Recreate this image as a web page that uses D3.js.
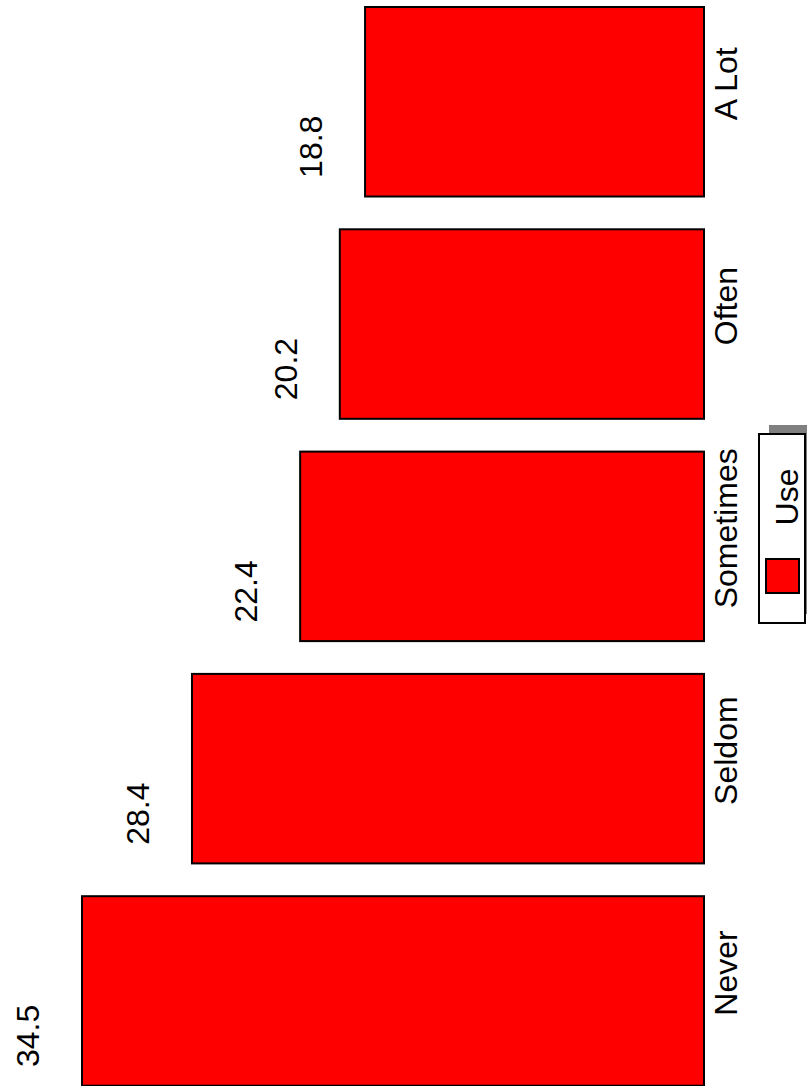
<!DOCTYPE html>
<html>
<head>
<meta charset="utf-8">
<script src="https://cdn.jsdelivr.net/npm/d3@7"></script>
<style>
  html, body { margin: 0; padding: 0; background: #fff; }
  svg { display: block; }
  text { font-family: "Liberation Sans", Arial, Helvetica, sans-serif; }
</style>
</head>
<body>
<svg id="chart" width="807" height="1086"></svg>
<script>
const categories = ["Never", "Seldom", "Sometimes", "Often", "A Lot"];
const values = [34.5, 28.4, 22.4, 20.2, 18.8];
const seriesName = "Use";

const svg = d3.select("#chart");
const W = 807, H = 1086;

// value axis runs right-to-left (bars grow leftward from baseline)
const x = d3.scaleLinear().domain([0, 34.5]).range([704, 82]);
// categories from top (A Lot) to bottom (Never)
const step = 222.3;
const y = d3.scaleBand()
  .domain(categories.slice().reverse())
  .range([7, 7 + step * (5 - 0.1475)])
  .paddingInner(0.1475)
  .paddingOuter(0);

const data = categories.map((c, i) => ({ c, v: values[i] }));

svg.selectAll("rect.bar").data(data).join("rect")
  .attr("class", "bar")
  .attr("x", d => x(d.v))
  .attr("y", d => y(d.c))
  .attr("width", d => x(0) - x(d.v))
  .attr("height", y.bandwidth())
  .attr("fill", "#ff0000")
  .attr("stroke", "#000")
  .attr("stroke-width", 2);

// value labels (rotated)
svg.selectAll("text.val").data(data).join("text")
  .attr("class", "val")
  .attr("transform", d => `translate(${x(d.v) - 43},${y(d.c) + y.bandwidth() / 2 + 45}) rotate(-90)`)
  .attr("text-anchor", "middle")
  .attr("font-size", 32)
  .attr("fill", "#000")
  .text(d => d.v.toFixed(1));

// category labels (rotated)
svg.selectAll("text.cat").data(data).join("text")
  .attr("class", "cat")
  .attr("transform", d => `translate(${x(0) + 33},${y(d.c) + y.bandwidth() / 2 - 18}) rotate(-90)`)
  .attr("text-anchor", "middle")
  .attr("font-size", 32)
  .attr("fill", "#000")
  .text(d => d.c);

// legend
const lg = svg.append("g");
lg.append("rect")
  .attr("x", 769).attr("y", 425).attr("width", 46).attr("height", 189)
  .attr("fill", "#808080");
lg.append("rect")
  .attr("x", 759).attr("y", 434).attr("width", 46).attr("height", 189)
  .attr("fill", "#fff").attr("stroke", "#000").attr("stroke-width", 2);
lg.append("rect")
  .attr("x", 766).attr("y", 559).attr("width", 33).attr("height", 34)
  .attr("fill", "#ff0000").attr("stroke", "#000").attr("stroke-width", 2);
lg.append("text")
  .attr("transform", "translate(798,497) rotate(-90)")
  .attr("text-anchor", "middle")
  .attr("font-size", 32)
  .attr("fill", "#000")
  .text(seriesName);
</script>
</body>
</html>
